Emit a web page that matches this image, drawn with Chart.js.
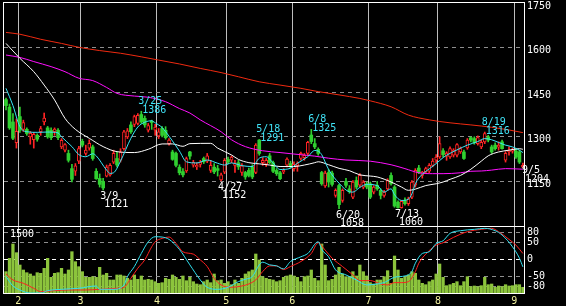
<!DOCTYPE html>
<html><head><meta charset="utf-8">
<script src="https://cdn.jsdelivr.net/npm/chart.js@4.4.1/dist/chart.umd.min.js"></script>
<style>
html,body{margin:0;padding:0;background:#000;width:566px;height:306px;overflow:hidden}
#ca{position:absolute;left:0;top:0}
#cb{position:absolute;left:0;top:226px}
</style></head><body>
<canvas id="ca" width="566" height="226"></canvas>
<canvas id="cb" width="566" height="80"></canvas>
<script>
// ---- daily candles (index 0 = late January, last = 9/5) ----
const opens  = [1425,1400,1350,1280,1368,1325,1325,1300,1290,1305,1317,1350,1330,1322,1317,1322,1266,1255,1244,1193,
  1184,1218,1285,1244,1262,1266,1184,1160,1150,1168,1172,1215,1227,1221,1260,1300,1340,1342,1345,1375,
  1362,1322,1352,1322,1303,1328,1322,1277,1249,1244,1198,1183,1185,1249,1205,1199,1207,1227,1218,1187,
  1198,1193,1155,1181,1224,1221,1204,1213,1180,1180,1187,1198,1180,1289,1213,1208,1236,1213,1187,1179,
  1182,1205,1210,1193,1203,1227,1230,1244,1306,1277,1258,1180,1135,1180,1178,1103,1136,1086,1150,1125,
  1097,1153,1137,1131,1142,1142,1114,1137,1120,1103,1125,1170,1131,1080,1062,1086,1075,1097,1137,1195,
  1170,1182,1184,1204,1221,1232,1253,1235,1232,1238,1238,1249,1249,1263,1297,1294,1277,1266,1283,1300,
  1266,1272,1265,1283,1221,1250,1252,1252,1249,1198];
const highs  = [1430,1410,1378,1360,1400,1356,1330,1318,1315,1310,1335,1380,1335,1330,1330,1328,1294,1277,1255,1207,
  1210,1268,1292,1272,1290,1272,1193,1175,1160,1205,1210,1255,1249,1260,1322,1328,1350,1373,1378,1386,
  1370,1345,1356,1342,1328,1334,1334,1294,1255,1249,1206,1193,1232,1251,1221,1213,1221,1232,1244,1221,
  1210,1204,1178,1227,1232,1236,1221,1221,1210,1184,1195,1206,1277,1291,1230,1227,1244,1218,1193,1184,
  1193,1229,1218,1216,1216,1249,1244,1285,1325,1294,1263,1184,1185,1190,1185,1125,1140,1125,1160,1136,
  1153,1165,1176,1153,1148,1148,1136,1150,1125,1120,1159,1179,1136,1085,1086,1095,1097,1153,1193,1204,
  1184,1198,1210,1227,1240,1300,1260,1250,1266,1260,1277,1266,1255,1294,1300,1300,1303,1289,1316,1305,
  1272,1280,1283,1289,1250,1266,1262,1260,1255,1212];
const lows   = [1390,1325,1290,1262,1315,1318,1305,1275,1262,1285,1305,1340,1295,1290,1305,1290,1260,1249,1215,1148,
  1170,1210,1266,1238,1255,1221,1157,1131,1121,1165,1168,1210,1199,1215,1255,1294,1311,1334,1340,1345,
  1332,1316,1325,1305,1294,1300,1292,1272,1221,1199,1172,1165,1180,1225,1198,1190,1198,1210,1213,1180,
  1176,1168,1152,1176,1210,1213,1180,1190,1170,1157,1165,1159,1176,1238,1204,1200,1210,1179,1170,1156,
  1176,1199,1196,1184,1184,1221,1221,1238,1277,1260,1238,1137,1130,1131,1134,1097,1058,1080,1130,1110,
  1092,1125,1131,1125,1125,1092,1108,1120,1091,1097,1120,1137,1063,1060,1060,1070,1069,1092,1131,1176,
  1161,1176,1179,1199,1213,1227,1232,1221,1227,1232,1232,1244,1224,1258,1283,1275,1272,1260,1277,1283,
  1244,1255,1255,1258,1215,1238,1245,1227,1210,1196];
const closes = [1405,1330,1295,1318,1322,1348,1311,1312,1308,1292,1328,1363,1300,1297,1326,1297,1288,1274,1221,1157,
  1202,1260,1272,1255,1278,1227,1159,1140,1128,1198,1204,1244,1205,1249,1317,1320,1317,1368,1372,1350,
  1340,1338,1348,1333,1317,1305,1297,1289,1224,1204,1179,1172,1227,1235,1214,1204,1216,1216,1236,1204,
  1182,1187,1172,1221,1215,1232,1210,1199,1202,1165,1170,1165,1272,1244,1221,1221,1213,1184,1176,1159,
  1187,1225,1202,1207,1210,1244,1238,1281,1284,1266,1244,1142,1178,1148,1140,1120,1072,1120,1137,1116,
  1148,1131,1170,1148,1131,1097,1131,1125,1103,1114,1153,1142,1067,1062,1083,1075,1091,1148,1187,1179,
  1181,1193,1204,1218,1232,1277,1240,1245,1260,1255,1274,1260,1227,1289,1289,1280,1297,1281,1311,1289,
  1249,1260,1272,1260,1244,1255,1256,1232,1215,1204];
const volumes = [533,867,1225,1008,700,575,508,475,425,508,492,617,867,392,492,508,617,475,575,1033,
  783,658,533,392,392,408,392,642,450,492,325,325,450,450,425,367,325,450,342,425,
  325,342,325,283,242,258,367,342,450,392,342,425,308,392,283,225,208,283,325,258,
  475,308,325,242,283,208,325,242,367,475,533,575,975,825,408,367,342,325,283,308,
  392,425,450,425,392,283,408,425,575,367,308,1225,700,308,342,450,642,475,408,392,
  533,425,700,533,425,258,225,325,325,408,558,242,925,575,367,408,450,533,492,325,
  242,208,283,325,475,725,392,183,208,242,283,183,283,408,158,175,158,183,392,208,
  225,142,175,158,208,175,183,208,208,142];

// ---- moving averages: [day index, price] ----
const maShort = [[0,1463],[2,1405],[4,1334],[6,1317],[9,1315],[12,1316],[15,1313],[16,1300],[19,1267],[21,1240],
  [23,1233],[25,1243],[26,1236],[29,1188],[30,1177],[31,1179],[33,1218],[36,1295],[38,1333],[40,1349],[42,1354],
  [43,1347],[45,1331],[47,1302],[50,1252],[52,1216],[55,1212],[58,1222],[61,1211],[63,1205],[65,1212],[68,1203],
  [71,1200],[73,1228],[75,1233],[77,1212],[79,1190],[82,1194],[84,1211],[87,1233],[89,1254],[90,1252],[91,1240],
  [93,1190],[96,1144],[99,1115],[100,1114],[102,1130],[104,1140],[107,1136],[109,1114],[111,1125],[112,1105],
  [114,1086],[116,1090],[117,1108],[118,1142],[120,1174],[122,1192],[124,1210],[126,1230],[127,1238],[130,1256],
  [133,1272],[136,1284],[138,1294],[140,1290],[142,1281],[144,1272],[146,1266],[148,1255],[149,1247]];
const maMid = [[0,1614],[4,1564],[8,1519],[11,1474],[14,1424],[17,1362],[20,1325],[24,1295],[28,1267],[32,1250],
  [37,1247],[41,1258],[45,1276],[48,1276],[51,1268],[53,1277],[59,1278],[61,1262],[65,1239],[67,1224],[70,1213],
  [73,1209],[76,1205],[79,1200],[83,1200],[86,1205],[89,1213],[90,1216],[93,1206],[96,1194],[99,1186],[102,1172],
  [105,1168],[107,1165],[111,1148],[114,1131],[116,1120],[118,1124],[121,1136],[124,1142],[126,1148],[128,1157],
  [131,1170],[134,1191],[137,1218],[139,1236],[142,1249],[145,1255],[148,1260],[149,1258]];
const maLong = [[0,1575],[4,1567],[8,1553],[13,1536],[17,1519],[21,1497],[25,1489],[29,1466],[32,1446],[37,1437],
  [41,1433],[46,1418],[50,1395],[53,1380],[56,1357],[62,1317],[65,1290],[69,1267],[74,1253],[79,1247],[83,1242],
  [89,1235],[93,1228],[98,1222],[105,1218],[111,1206],[115,1193],[119,1179],[123,1176],[126,1176],[131,1179],
  [134,1184],[137,1185],[140,1188],[144,1193],[149,1191]];
const maVeryLong = [[0,1651],[4,1645],[10,1628],[16,1614],[21,1601],[27,1590],[33,1581],[39,1569],[44,1558],
  [50,1545],[56,1530],[62,1516],[67,1502],[73,1485],[79,1474],[85,1463],[90,1452],[96,1441],[102,1429],[105,1421],
  [111,1401],[116,1373],[122,1357],[128,1347],[134,1340],[140,1332],[145,1323],[149,1314]];

// ---- oscillator (lower panel): [day index, value] ----
const oscFast = [[0,-51],[2,-79],[4,-91],[7,-100],[10,-100],[12,-93],[16,-89],[21,-86],[26,-79],[27,-89],[31,-89],
  [34,-76],[35,-51],[37,-21],[39,18],[41,53],[43,68],[45,67],[47,60],[50,30],[53,-16],[56,-61],[58,-83],[61,-89],
  [64,-83],[67,-66],[69,-59],[71,-51],[73,-16],[74,-8],[76,-16],[78,-19],[80,-28],[82,-6],[85,8],[87,18],[90,53],
  [91,30],[93,8],[95,-31],[98,-46],[101,-61],[104,-76],[107,-73],[109,-69],[112,-53],[115,-49],[117,-36],[118,-11],
  [120,18],[122,23],[124,48],[126,56],[128,78],[131,86],[135,90],[138,93],[141,86],[143,73],[146,38],[148,4],[149,-22]];
const oscSlow = [[0,-43],[2,-61],[5,-71],[8,-86],[10,-96],[14,-93],[18,-91],[23,-91],[27,-89],[32,-86],[34,-83],
  [36,-56],[38,-26],[40,-1],[42,38],[43,53],[45,63],[47,67],[49,48],[51,23],[54,16],[56,-1],[58,-21],[60,-56],
  [62,-76],[65,-83],[68,-79],[70,-73],[72,-61],[74,-36],[76,-19],[78,-19],[80,-30],[82,-21],[85,-6],[88,18],[90,50],
  [92,28],[94,4],[97,-21],[100,-46],[102,-63],[105,-63],[108,-73],[110,-76],[112,-69],[114,-69],[116,-66],[118,-36],
  [119,-11],[121,16],[124,43],[126,50],[129,66],[133,83],[137,90],[140,93],[142,83],[145,60],[147,43],[149,18]];

// ---- axes ----
const monthStarts = [4,22,44,64,83,105,125,147];
const monthLabels = ['2','3','4','5','6','7','8','9'];
const priceTicks = [1150,1300,1450,1600,1750];
const oscTicks = [-80,-50,0,50,80];
const volumeLabel = 1500;

// ---- annotations ----
const annIdx  = [28,39,62,73,88,96,113,138,149];
const annDate = ['3/9','3/25','4/27','5/18','6/8','6/20','7/13','8/19','9/5'];
const annKind = ['low','high','low','high','high','low','low','high','last'];

const FONT = '10px "DejaVu Sans Mono", monospace';
const GREEN = '#30d030', RED = '#ff2424';
const days = opens.map((_, i) => i);
const pts = a => a.map(p => ({x: p[0], y: p[1]}));
const isUp = i => closes[i] >= opens[i];
const X_MIN = -0.58, X_MAX = 149.32;

const monthTicksCb = s => { s.ticks = monthStarts.map(m => ({value: m - 0.5})); };
const noPad = s => { s.paddingTop = 0; s.paddingBottom = 0; s.paddingLeft = 0; s.paddingRight = 0; };
const plain = v => String(v);

const framePlugin = (topShift) => ({
  id: 'frame',
  afterDraw(chart) {
    const a = chart.chartArea, c = chart.ctx;
    c.save(); c.strokeStyle = '#ffffff'; c.lineWidth = 1;
    c.strokeRect(a.left - 0.5, a.top - 0.5 + topShift, a.right - a.left + 1, a.bottom - a.top + 1 - topShift);
    c.restore();
  }
});

const annPlugin = {
  id: 'ann',
  afterDatasetsDraw(chart) {
    const c = chart.ctx, xs = chart.scales.x, ys = chart.scales.y;
    c.save(); c.font = FONT; c.textAlign = 'left'; c.textBaseline = 'alphabetic';
    annIdx.forEach((i, k) => {
      const kind = annKind[k];
      const v = kind === 'high' ? highs[i] : kind === 'low' ? lows[i] : closes[i];
      const px = xs.getPixelForValue(i), py = ys.getPixelForValue(v);
      if (kind === 'high') {
        c.fillStyle = '#40e4f8';
        c.fillText(annDate[k], px - 3, py - 7.5);
        c.fillText(String(v), px + 1, py + 1.5);
      } else if (kind === 'low') {
        c.fillStyle = '#ffffff';
        c.fillText(annDate[k], px - 3, py + 9);
        c.fillText(String(v), px + 1, py + 17);
      } else {
        c.fillStyle = '#ffffff';
        c.fillText(annDate[k], px - 1, py + 8);
        c.fillText(String(v), px + 2, py + 17);
      }
    });
    c.restore();
  }
};

const lineDs = (data, color, order, axis) => ({
  type: 'line', data: pts(data), borderColor: color, borderWidth: 1, pointRadius: 0,
  tension: 0.3, cubicInterpolationMode: 'monotone', order, yAxisID: axis || 'y'
});

const monthGrid = { color: '#bdbdbd', lineWidth: 1, drawTicks: false, offset: false };

new Chart(document.getElementById('ca'), {
  type: 'bar',
  data: { datasets: [
    lineDs(maShort, '#38e8f8', 0),
    lineDs(maMid, '#ffffff', 1),
    lineDs(maLong, '#ff10ff', 2),
    lineDs(maVeryLong, '#f02a10', 3),
    { type: 'bar', data: days.map(i => ({x: i, y: [opens[i], closes[i]]})), order: 10, grouped: false,
      barThickness: 3, borderSkipped: false,
      backgroundColor: ctx => isUp(ctx.dataIndex) ? '#000000' : GREEN,
      borderColor: ctx => isUp(ctx.dataIndex) ? RED : GREEN,
      borderWidth: ctx => isUp(ctx.dataIndex) ? 1 : 0 },
    { type: 'bar', data: days.map(i => ({x: i, y: [lows[i], highs[i]]})), order: 11, grouped: false,
      barThickness: 1, borderWidth: 0,
      backgroundColor: ctx => isUp(ctx.dataIndex) ? RED : GREEN }
  ]},
  options: {
    responsive: false, animation: false, devicePixelRatio: 1,
    layout: { padding: { left: 4, top: 3, right: 0, bottom: 0 } },
    plugins: { legend: { display: false }, tooltip: { enabled: false } },
    scales: {
      x: { type: 'linear', min: X_MIN, max: X_MAX, offset: false,
        afterBuildTicks: monthTicksCb,
        ticks: { display: false },
        grid: monthGrid,
        border: { display: false },
        afterFit: s => { s.height = 0; noPad(s); } },
      y: { position: 'right', min: 1000, max: 1750,
        afterBuildTicks: s => { s.ticks = priceTicks.map(v => ({value: v})); },
        ticks: { color: '#ffffff', font: { family: '"DejaVu Sans Mono", monospace', size: 10 }, padding: 3, labelOffset: 3,
          callback: plain },
        grid: { color: ctx => (ctx.tick && ctx.tick.value === 1750) ? 'rgba(0,0,0,0)' : '#8e8e8e', drawTicks: false, offset: false },
        border: { display: false, dash: [4, 4] },
        afterFit: s => { s.width = 42; noPad(s); } }
    }
  },
  plugins: [framePlugin(0), annPlugin]
});

const volLabelPlugin = {
  id: 'volLabel',
  afterDraw(chart) {
    const c = chart.ctx, yv = chart.scales.yv;
    c.save(); c.font = FONT; c.fillStyle = '#ffffff'; c.textBaseline = 'alphabetic';
    c.fillText(String(volumeLabel), 10, yv.getPixelForValue(volumeLabel) + 3.5);
    c.restore();
  }
};

new Chart(document.getElementById('cb'), {
  type: 'bar',
  data: { datasets: [
    lineDs(oscFast, '#30e0f0', 0, 'yo'),
    lineDs(oscSlow, '#ff2020', 1, 'yo'),
    { type: 'bar', data: days.map(i => ({x: i, y: volumes[i]})), yAxisID: 'yv', order: 5, grouped: false,
      barThickness: 2.6, backgroundColor: '#8cc43c', borderWidth: 0 }
  ]},
  options: {
    responsive: false, animation: false, devicePixelRatio: 1,
    layout: { padding: { left: 4, top: 0, right: 0, bottom: 0 } },
    plugins: { legend: { display: false }, tooltip: { enabled: false } },
    scales: {
      x: { type: 'linear', min: X_MIN, max: X_MAX, offset: false,
        afterBuildTicks: monthTicksCb,
        ticks: { color: '#f2f2a0', font: { family: '"DejaVu Sans Mono", monospace', size: 10 }, padding: 2,
          maxRotation: 0, autoSkip: false,
          callback: (v, idx) => monthLabels[idx] },
        grid: monthGrid,
        border: { display: false },
        afterFit: s => { s.height = 13; noPad(s); } },
      yo: { position: 'right', min: -100, max: 100,
        afterBuildTicks: s => { s.ticks = oscTicks.map(v => ({value: v})); },
        ticks: { color: '#ffffff', font: { family: '"DejaVu Sans Mono", monospace', size: 10 }, padding: 3,
          callback: plain },
        grid: { color: ctx => (ctx.tick && ctx.tick.value === 0) ? '#ffffff' : '#8e8e8e', drawTicks: false, offset: false },
        border: { display: false, dash: [4, 4] },
        afterFit: s => { s.width = 42; noPad(s); } },
      yv: { position: 'left', display: false, min: 0, max: 1675 }
    }
  },
  plugins: [framePlugin(1), volLabelPlugin]
});
</script>
</body></html>
